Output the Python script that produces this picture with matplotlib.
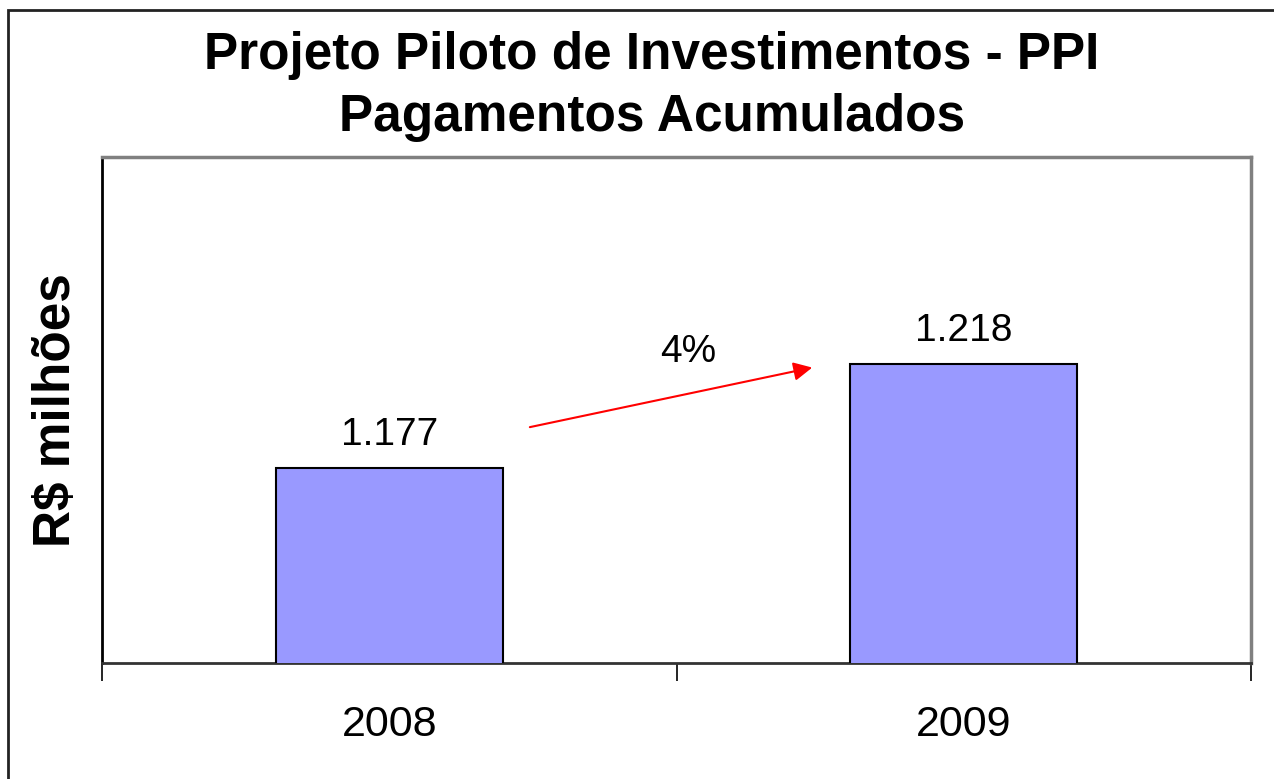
import matplotlib.pyplot as plt
from matplotlib.patches import Rectangle

plt.rcParams["font.family"] = ["Liberation Sans", "DejaVu Sans"]

years = ["2008", "2009"]
payments = [1177, 1218]
value_labels = ["1.177", "1.218"]
growth_label = "4%"

W, H = 1274, 779
fig = plt.figure(figsize=(W / 100, H / 100), dpi=100)

# outer frame of the slide
fig.patches.append(Rectangle((8 / W, -0.1), 1.2, 1 - 10 / H + 0.1, transform=fig.transFigure,
                             fill=False, edgecolor="#222222", linewidth=2))

ax = fig.add_axes([102 / W, 1 - 663 / H, (1251 - 102) / W, (663 - 157) / H])
x = list(range(len(years)))
ax.bar(x, payments, width=0.395, color="#9999FF", edgecolor="black", linewidth=1.5, zorder=3)
ax.set_xlim(-0.5, len(years) - 0.5)
ax.set_ylim(1100, 1300)

for xi, v, lab in zip(x, payments, value_labels):
    ax.annotate(lab, (xi, v), xytext=(0, 11), textcoords="offset points",
                ha="center", va="bottom", fontsize=28)

# growth arrow between the bars
ax.annotate("", xy=(0.741, 1217), xytext=(0.24, 1193),
            arrowprops=dict(arrowstyle="-|>", color="red", lw=1.5, mutation_scale=28))
ax.text(0.52, 1223, growth_label, ha="center", va="center", fontsize=28)

ax.set_xticks(x)
ax.set_xticklabels(years, fontsize=31)
ax.tick_params(axis="x", which="major", length=0, pad=30)
ax.set_xticks([-0.5, 0.5, 1.5], minor=True)
ax.tick_params(axis="x", which="minor", length=13, width=1.2, direction="out")
ax.set_yticks([])

for side in ("top", "right"):
    ax.spines[side].set_color("#808080")
    ax.spines[side].set_linewidth(2.5)
ax.spines["left"].set_color("black")
ax.spines["left"].set_linewidth(2)
ax.spines["bottom"].set_color("#333333")
ax.spines["bottom"].set_linewidth(2)

fig.text(57 / W, 1 - 410 / H, "R$ milhões", rotation=90, ha="center", va="center",
         fontsize=37, fontweight="bold")
fig.text(652 / W, 1 - 55 / H, "Projeto Piloto de Investimentos - PPI", ha="center", va="center",
         fontsize=37, fontweight="bold")
fig.text(652 / W, 1 - 117 / H, "Pagamentos Acumulados", ha="center", va="center",
         fontsize=37, fontweight="bold")

fig.savefig("out.png", dpi=100)
